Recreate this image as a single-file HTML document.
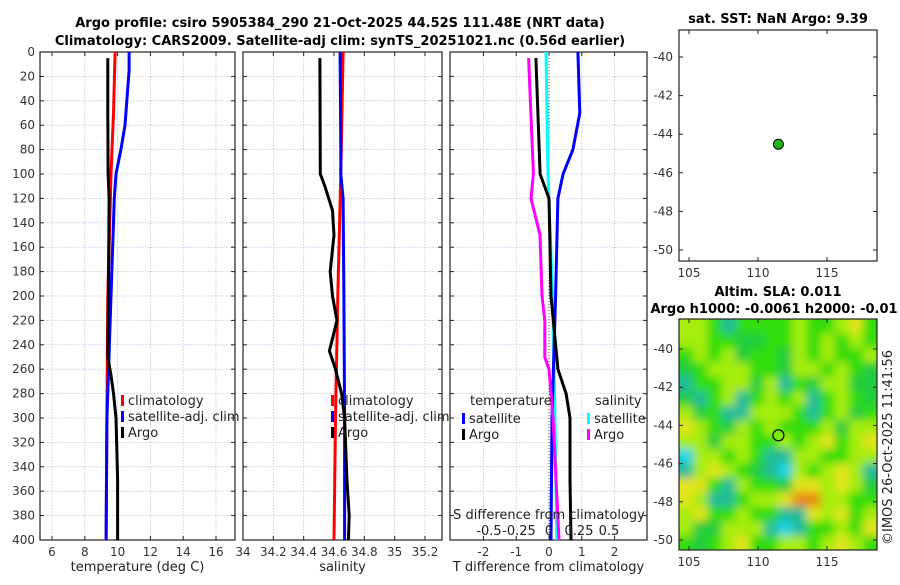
<!DOCTYPE html>
<html><head><meta charset="utf-8"><style>
body{margin:0;background:#fff}
svg{font-family:"DejaVu Sans","Liberation Sans",sans-serif;font-size:12px}
</style></head><body>
<svg id="c" width="900" height="580" viewBox="0 0 900 580">
<defs>
<filter id="bl" x="-10%" y="-10%" width="120%" height="120%"><feGaussianBlur stdDeviation="4.5"/></filter>
<clipPath id="mapclip"><rect x="679" y="319" width="198" height="231"/></clipPath>
</defs>
<g font-weight="bold" font-size="13" text-anchor="middle">
<text x="340" y="27">Argo profile: csiro 5905384_290 21-Oct-2025 44.52S 111.48E (NRT data)</text>
<text x="340" y="45">Climatology: CARS2009. Satellite-adj clim: synTS_20251021.nc (0.56d earlier)</text>
<text x="778" y="23">sat. SST: NaN Argo: 9.39</text>
<text x="778" y="296">Altim. SLA: 0.011</text>
<text x="774" y="313">Argo h1000: -0.0061 h2000: -0.01</text>
</g>
<g id="plots"></g>
</svg>
<script>
const NS="http://www.w3.org/2000/svg";
const root=document.getElementById('plots');
function el(t,a,p){const e=document.createElementNS(NS,t);for(const k in a)e.setAttribute(k,a[k]);(p||root).appendChild(e);return e;}

// ---- data ----
const tempArgoDepth=[5,50,100,120,180,250,265,280,300,350,400];
const tempArgo=[9.4,9.4,9.42,9.48,9.45,9.4,9.6,9.75,9.9,10.0,10.0];
const tempClimDepth=[0,50,100,200,300,400];
const tempClim=[9.85,9.75,9.6,9.4,9.35,9.3];
const tempSatDepth=[0,15,60,80,100,120,200,260,300,400];
const tempSat=[10.7,10.7,10.45,10.2,9.9,9.8,9.6,9.45,9.35,9.3];

const salArgoDepth=[5,100,110,130,150,180,200,220,245,260,280,300,350,380,400];
const salArgo=[34.507,34.51,34.54,34.59,34.6,34.575,34.59,34.62,34.57,34.61,34.65,34.67,34.685,34.7,34.695];
const salClimDepth=[0,100,200,300,400];
const salClim=[34.66,34.645,34.625,34.61,34.6];
const salSatDepth=[0,80,100,120,200,300,400];
const salSat=[34.64,34.645,34.645,34.66,34.665,34.67,34.67];

const tdSatDepth=[0,50,80,100,120,200,300,400];
const tdSat=[0.88,0.94,0.73,0.43,0.27,0.2,0.09,0.06];
const tdArgoDepth=[5,100,120,200,260,280,300,350,400];
const tdArgo=[-0.4,-0.27,0,0.06,0.27,0.52,0.64,0.64,0.67];
const sdSatDepth=[0,100,200,300,400];
const sdSat=[-0.025,-0.008,0.03,0.05,0.065];
const sdArgoDepth=[5,100,120,150,200,220,250,260,300,400];
const sdArgo=[-0.17,-0.13,-0.15,-0.075,-0.058,-0.035,-0.035,0,0.033,0.083];

const depthTicks=[0,20,40,60,80,100,120,140,160,180,200,220,240,260,280,300,320,340,360,380,400];
const tTicks=[6,8,10,12,14,16];
const sTicks=[34,34.2,34.4,34.6,34.8,35,35.2];
const sTickLabels=["34","34.2","34.4","34.6","34.8","35","35.2"];
const tdTicks=[-2,-1,0,1,2];
const sdTicks=[-0.5,-0.25,0,0.25,0.5];
const lonTicks=[105,110,115];
const latTicks=[-40,-42,-44,-46,-48,-50];
const argoLon=111.48, argoLat=-44.52;

// SLA grid (rows north->south, 14 cols), -3 cyan ... 3 orange
const slaGrid=[
"LLgTggggLggLYg",
"LLggGGggLgLgLg",
"gLgLGggGLgLggL",
"GgLLLggGLLgLgG",
"TggLLGLTgGLLGG",
"GTgLTgLgLTgLgG",
"LGgTTLLLgTgLGg",
"YLgGLgLgggLGLL",
"LLGLLggLgLYgLY",
"CLLgLgTTLLggLL",
"TLYLgGTCLgLYLT",
"YYgTLggGYYLYLG",
"YLTTgLLYOOLLgg",
"LYggLggTTYLYgL",
"LGGLLLTCTggLgY",
"gGgLYggLLgLYLg"];
const slaLevels={C:-3,T:-2,G:-1,g:0,L:1,Y:2,O:3};
const slaColors={"-3":"#12d6e6","-2":"#22bb9a","-1":"#22cc40","0":"#33dd0c","1":"#a6ec08","2":"#e2e41c","3":"#e8880e"};

// ---- axes ----
const Y0=52,Y1=540;
const yD=d=>Y0+(d/400)*(Y1-Y0);
function lin(d0,d1,r0,r1){return v=>r0+(v-d0)/(d1-d0)*(r1-r0);}
const P1={x0:40,x1:235},P2={x0:243,x1:442},P3={x0:450,x1:647};
const xT=lin(6,16,52,216), xS=lin(34,35.2,243,425), xTD=lin(0,1,549,581.8), xSD=lin(0,0.25,549,579);

function panel(P,name,xticks,xf,xlabels,xtitle,showY){
  const g=el('g',{});
  depthTicks.forEach(d=>{
    el('line',{x1:P.x0,x2:P.x1,y1:yD(d),y2:yD(d),stroke:'#b8c4e0','stroke-width':0.8,'stroke-dasharray':'1.5,1.5'},g);
    el('line',{x1:P.x0,x2:P.x0+4,y1:yD(d),y2:yD(d),stroke:'#222'},g);
    el('line',{x1:P.x1-4,x2:P.x1,y1:yD(d),y2:yD(d),stroke:'#222'},g);
    if(showY){const t=el('text',{x:P.x0-5,y:yD(d)+4,'text-anchor':'end',fill:'#333'},g);t.textContent=d;}
  });
  xticks.forEach((v,i)=>{
    const x=xf(v);
    el('line',{x1:x,x2:x,y1:Y0,y2:Y1,stroke:'#b8c4e0','stroke-width':0.8,'stroke-dasharray':'1.5,1.5'},g);
    el('line',{x1:x,x2:x,y1:Y1,y2:Y1-4,stroke:'#222'},g);
    el('line',{x1:x,x2:x,y1:Y0,y2:Y0+4,stroke:'#222'},g);
    const t=el('text',{x:x,y:Y1+16,'text-anchor':'middle',fill:'#333'},g);t.textContent=xlabels[i];
  });
  el('rect',{x:P.x0,y:Y0,width:P.x1-P.x0,height:Y1-Y0,fill:'none',stroke:'#222','stroke-width':1.2},g);
  const tt=el('text',{x:(P.x0+P.x1)/2,y:571,'text-anchor':'middle',fill:'#222','font-size':13},g);tt.textContent=xtitle;
  return g;
}
function line(g,depths,vals,xf,col,name){
  const pts=depths.map((d,i)=>xf(vals[i]).toFixed(1)+','+yD(d).toFixed(1)).join(' ');
  const p=el('polyline',{points:pts,fill:'none',stroke:col,'stroke-width':3},g);
  
  
}
function legend(g,x,y,items){
  items.forEach((it,i)=>{
    el('rect',{x:x,y:y+i*16-8,width:3,height:11,fill:it[1]},g);
    const t=el('text',{x:x+7,y:y+i*16+2,fill:'#222','font-size':13},g);t.textContent=it[0];
  });
}
const g1=panel(P1,'temperature-panel',tTicks,xT,tTicks.map(String),'temperature (deg C)',true);
line(g1,tempClimDepth,tempClim,xT,'#f00','temp-climatology-line');
line(g1,tempSatDepth,tempSat,xT,'#00f','temp-satellite-line');
line(g1,tempArgoDepth,tempArgo,xT,'#000','temp-argo-line');
legend(g1,121,403,[['climatology','#f00'],['satellite-adj. clim','#00f'],['Argo','#000']]);

const g2=panel(P2,'salinity-panel',sTicks,xS,sTickLabels,'salinity',false);
line(g2,salClimDepth,salClim,xS,'#f00','sal-climatology-line');
line(g2,salSatDepth,salSat,xS,'#00f','sal-satellite-line');
line(g2,salArgoDepth,salArgo,xS,'#000','sal-argo-line');
legend(g2,331,403,[['climatology','#f00'],['satellite-adj. clim','#00f'],['Argo','#000']]);

const g3=panel(P3,'difference-panel',tdTicks,xTD,tdTicks.map(String),'T difference from climatology',false);
el('line',{x1:xTD(0),x2:xTD(0),y1:Y0,y2:Y1,stroke:'#555','stroke-dasharray':'1,2'},g3);
line(g3,sdSatDepth,sdSat,xSD,'#0ff','sdiff-satellite-line');
line(g3,tdSatDepth,tdSat,xTD,'#00f','tdiff-satellite-line');
line(g3,sdArgoDepth,sdArgo,xSD,'#f0f','sdiff-argo-line');
line(g3,tdArgoDepth,tdArgo,xTD,'#000','tdiff-argo-line');
{let t=el('text',{x:470,y:405,fill:'#222','font-size':13},g3);t.textContent='temperature';
 t=el('text',{x:595,y:405,fill:'#222','font-size':13},g3);t.textContent='salinity';}
legend(g3,462,421,[['satellite','#00f'],['Argo','#000']]);
legend(g3,587,421,[['satellite','#0ff'],['Argo','#f0f']]);
{let t=el('text',{x:549,y:519,'text-anchor':'middle',fill:'#222','font-size':13},g3);t.textContent='S difference from climatology';
 sdTicks.forEach(v=>{const s=el('text',{x:xSD(v),y:535,'text-anchor':'middle',fill:'#222','font-size':13},g3);s.textContent=String(v);});}

// ---- maps ----
const xLon=lin(105,115,689,827);
function mapFrame(g,x0,y0,w,h,yLat){
  el('rect',{x:x0,y:y0,width:w,height:h,fill:'none',stroke:'#222','stroke-width':1.2},g);
  latTicks.forEach(v=>{const y=yLat(v);
    el('line',{x1:x0,x2:x0+4,y1:y,y2:y,stroke:'#222'},g);
    el('line',{x1:x0+w-4,x2:x0+w,y1:y,y2:y,stroke:'#222'},g);
    const t=el('text',{x:x0-6,y:y+4,'text-anchor':'end',fill:'#333'},g);t.textContent=v;});
  lonTicks.forEach(v=>{const x=xLon(v);
    el('line',{x1:x,x2:x,y1:y0+h,y2:y0+h-4,stroke:'#222'},g);
    el('line',{x1:x,x2:x,y1:y0,y2:y0+4,stroke:'#222'},g);
    const t=el('text',{x:x,y:y0+h+16,'text-anchor':'middle',fill:'#333'},g);t.textContent=v;});
}
const yLatTop=lin(-40,-50,57,250);
const gm1=el('g',{});
mapFrame(gm1,679,30,198,231,yLatTop);
{const c=el('circle',{cx:xLon(argoLon),cy:yLatTop(argoLat),r:5,fill:'#1db31d',stroke:'#000'},gm1);
 }

const yLatBot=lin(-40,-50,349,540);
const gm2=el('g',{});
el('rect',{x:679,y:319,width:198,height:231,fill:'#33dd0c'},gm2);
const mg=el('g',{'clip-path':'url(#mapclip)'},gm2);
const mf=el('g',{filter:'url(#bl)'},mg);
const nR=slaGrid.length,nC=slaGrid[0].length,cw=198/nC,ch=231/nR;
slaGrid.forEach((row,r)=>{
  for(let c=0;c<nC;c++){
    const v=slaLevels[row[c]];
    let x=679+c*cw,y=319+r*ch,w=cw+0.6,h=ch+0.6;
    if(c===0){x-=10;w+=10;} if(c===nC-1){w+=10;}
    if(r===0){y-=10;h+=10;} if(r===nR-1){h+=10;}
    const e=el('rect',{x:x,y:y,width:w,height:h,fill:slaColors[String(v)]},mf);
    
    
  }
});
mapFrame(gm2,679,319,198,231,yLatBot);
{const c=el('circle',{cx:xLon(argoLon),cy:yLatBot(argoLat),r:5.5,fill:'none',stroke:'#000','stroke-width':1.2},gm2);
 }
{const t=el('text',{x:0,y:0,transform:'translate(892,545) rotate(-90)',fill:'#222','font-size':13});
 
 t.textContent='©IMOS 26-Oct-2025 11:41:56';}
</script>
</body></html>
